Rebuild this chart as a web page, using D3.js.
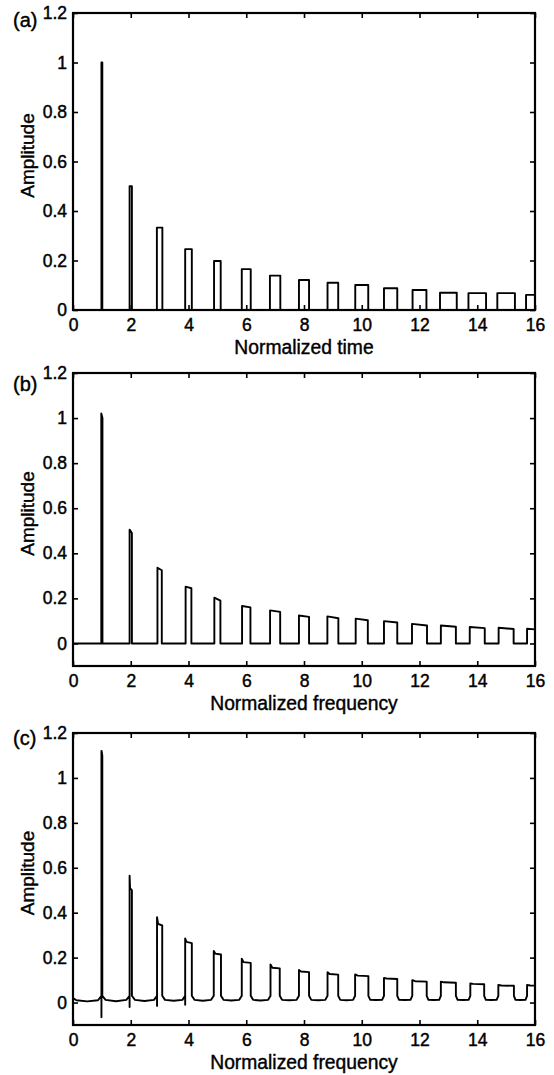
<!DOCTYPE html>
<html>
<head>
<meta charset="utf-8">
<script src="https://cdn.jsdelivr.net/npm/d3@7"></script>
<style>
  body { margin: 0; background: #fff; }
  text { font-family: "Liberation Sans", Arial, Helvetica, sans-serif; fill: #000; }
</style>
</head>
<body>
<div id="canvas"></div>
<script>
"use strict";

/* =========================
   DATA
   ========================= */

let harmonics = [1, 2, 3, 4, 5, 6, 7, 8, 9, 10, 11, 12, 13, 14, 15, 16];
let xTicks = [0, 2, 4, 6, 8, 10, 12, 14, 16];
let yTicks = [0, 0.2, 0.4, 0.6, 0.8, 1, 1.2];

/* (a) normalized time: pulse heights and widths */
let aHeights = [1.0, 0.5, 0.333, 0.246, 0.198, 0.165, 0.139, 0.121, 0.11, 0.101, 0.088, 0.081, 0.07, 0.068, 0.068, 0.061];
let aWidths  = [0.03, 0.08, 0.19, 0.23, 0.23, 0.31, 0.36, 0.35, 0.37, 0.45, 0.46, 0.48, 0.58, 0.61, 0.61, 0.62];

/* (b) normalized frequency: left/right top of each pulse */
let bLeft   = [1.02, 0.505, 0.336, 0.252, 0.203, 0.166, 0.147, 0.124, 0.12, 0.11, 0.099, 0.087, 0.08, 0.073, 0.07, 0.065];
let bRight  = [1.0, 0.49, 0.325, 0.245, 0.19, 0.16, 0.14, 0.118, 0.112, 0.103, 0.093, 0.08, 0.074, 0.068, 0.064, 0.06];
let bWidths = [0.04, 0.08, 0.15, 0.2, 0.21, 0.29, 0.35, 0.35, 0.38, 0.42, 0.46, 0.52, 0.52, 0.52, 0.52, 0.55];

/* (c) normalized frequency: overshoot peak, plateau, undershoot */
let cPeaks  = [1.12, 0.565, 0.38, 0.285, 0.23, 0.195, 0.17, 0.145, 0.135, 0.125, 0.11, 0.1, 0.093, 0.085, 0.078, 0.078];
let cTops   = [1.12, 0.51, 0.35, 0.27, 0.218, 0.18, 0.155, 0.138, 0.127, 0.12, 0.107, 0.095, 0.09, 0.083, 0.076, 0.076];
let cDips   = [-0.065, -0.02, -0.015, -0.01, 0, 0, 0, 0, 0, 0, 0, 0, 0, 0, 0, 0];
let cWidths = [0.03, 0.08, 0.18, 0.23, 0.25, 0.31, 0.32, 0.35, 0.37, 0.46, 0.46, 0.5, 0.52, 0.48, 0.54, 0.55];

/* (c) scalloped baseline in the gap before each pulse */
let cGapStart    = [0.02, 0.03, 0.03, 0.03, 0.03, 0.03, 0.03, 0.03, 0.03, 0.03, 0.03, 0.03, 0.03, 0.03, 0.03, 0.03];
let cGapShoulder = [0.01, 0.012, 0.012, 0.012, 0.012, 0.012, 0.012, 0.012, 0.012, 0.012, 0.012, 0.012, 0.012, 0.012, 0.012, 0.012];
let cGapMid      = [0.005, 0.006, 0.007, 0.008, 0.008, 0.009, 0.009, 0.01, 0.01, 0.01, 0.011, 0.011, 0.011, 0.011, 0.011, 0.011];
let cGapEnd      = [0.03, 0.03, 0.03, 0.03, 0.03, 0.03, 0.03, 0.03, 0.03, 0.03, 0.03, 0.03, 0.03, 0.03, 0.03, 0.03];

/* =========================
   CONFIGURATION
   ========================= */

let svgWidth = 554;
let svgHeight = 1075;
let plotLeft = 73;
let plotRight = 535;

let panels = [
    {id: "a", top: 13,  bottom: 310,  yMin: 0,    label: "(a)", labelY: 20,  xTitle: "Normalized time"},
    {id: "b", top: 373, bottom: 666,  yMin: -0.1, label: "(b)", labelY: 384, xTitle: "Normalized frequency"},
    {id: "c", top: 733, bottom: 1025, yMin: -0.1, label: "(c)", labelY: 738, xTitle: "Normalized frequency"}
];

let svg = d3.select("#canvas")
    .append("svg")
    .attr("width", svgWidth)
    .attr("height", svgHeight);

let xScale = d3.scaleLinear()
    .domain([0, 16])
    .range([plotLeft, plotRight]);

/* =========================
   PULSE PATH BUILDERS
   ========================= */

function pathA() {
    let segs = [];
    harmonics.forEach(function(n, i) {
        let l = n - aWidths[i] / 2, r = n + aWidths[i] / 2;
        segs.push([[l, 0], [l, aHeights[i]], [r, aHeights[i]], [r, 0]]);
    });
    return segs;
}

function pathB() {
    let pts = [[0, 0]];
    harmonics.forEach(function(n, i) {
        let l = n - bWidths[i] / 2, r = n + bWidths[i] / 2;
        pts.push([l, 0], [l, bLeft[i]], [r, bRight[i]], [r, 0]);
    });
    pts.push([16.5, 0]);
    return [pts];
}

function pathC() {
    let pts = [];
    let prevEnd = 0;
    harmonics.forEach(function(n, i) {
        let l = n - cWidths[i] / 2, r = n + cWidths[i] / 2;
        let gap = l - prevEnd;
        /* scalloped baseline */
        pts.push([prevEnd, cGapStart[i]]);
        pts.push([prevEnd + gap * 0.12, cGapShoulder[i]]);
        pts.push([prevEnd + gap * 0.5, cGapMid[i]]);
        pts.push([l - gap * 0.12, cGapShoulder[i]]);
        pts.push([l, cGapEnd[i]]);
        /* pulse with undershoot and overshoot */
        if (cDips[i] < 0) { pts.push([l, cDips[i]]); }
        pts.push([l, cPeaks[i]]);
        pts.push([l + cWidths[i] * 0.2, cTops[i]]);
        pts.push([r, cTops[i] * 0.98]);
        pts.push([r, cGapStart[Math.min(i + 1, 15)]]);
        prevEnd = r;
    });
    return [pts];
}

let builders = {a: pathA, b: pathB, c: pathC};

/* =========================
   DRAW PANELS
   ========================= */

panels.forEach(function(p) {

    let yScale = d3.scaleLinear()
        .domain([p.yMin, 1.2])
        .range([p.bottom, p.top]);

    let g = svg.append("g");

    /* clip for signal */
    svg.append("clipPath")
        .attr("id", "clip-" + p.id)
        .append("rect")
        .attr("x", plotLeft)
        .attr("y", p.top)
        .attr("width", plotRight - plotLeft)
        .attr("height", p.bottom - p.top);

    /* signal */
    let line = d3.line()
        .x(d => xScale(d[0]))
        .y(d => yScale(d[1]));

    g.append("g")
        .attr("clip-path", "url(#clip-" + p.id + ")")
        .selectAll("path")
        .data(builders[p.id]())
        .join("path")
        .attr("d", line)
        .attr("fill", "none")
        .attr("stroke", "#000")
        .attr("stroke-width", 1.9)
        .attr("stroke-linejoin", "round");

    /* bottom axis with labels */
    let bottomAxis = g.append("g")
        .attr("transform", "translate(0," + p.bottom + ")")
        .call(d3.axisBottom(xScale).tickValues(xTicks).tickSizeInner(-5).tickSizeOuter(0).tickPadding(9));

    /* top axis, ticks only */
    let topAxis = g.append("g")
        .attr("transform", "translate(0," + p.top + ")")
        .call(d3.axisTop(xScale).tickValues(xTicks).tickSizeInner(-5).tickSizeOuter(0).tickFormat(""));

    /* left axis with labels */
    let leftAxis = g.append("g")
        .attr("transform", "translate(" + plotLeft + ",0)")
        .call(d3.axisLeft(yScale).tickValues(yTicks).tickSizeInner(-5).tickSizeOuter(0).tickPadding(6)
            .tickFormat(d3.format("")));

    /* right axis, ticks only */
    let rightAxis = g.append("g")
        .attr("transform", "translate(" + plotRight + ",0)")
        .call(d3.axisRight(yScale).tickValues(yTicks).tickSizeInner(-5).tickSizeOuter(0).tickFormat(""));

    [bottomAxis, topAxis, leftAxis, rightAxis].forEach(function(ax) {
        ax.select(".domain").remove();
        ax.selectAll(".tick line").attr("stroke", "#000").attr("stroke-width", 1.6);
        ax.selectAll("text")
            .attr("font-size", 17.5)
            .attr("fill", "#000")
            .attr("stroke", "#000")
            .attr("stroke-width", 0.45)
            .style("font-family", "'Liberation Sans', Arial, sans-serif");
    });

    /* box */
    g.append("rect")
        .attr("x", plotLeft)
        .attr("y", p.top)
        .attr("width", plotRight - plotLeft)
        .attr("height", p.bottom - p.top)
        .attr("fill", "none")
        .attr("stroke", "#000")
        .attr("stroke-width", 2.2);

    /* axis titles */
    g.append("text")
        .attr("x", (plotLeft + plotRight) / 2)
        .attr("y", p.bottom + 44)
        .attr("text-anchor", "middle")
        .attr("font-size", 19.3)
        .attr("stroke", "#000")
        .attr("stroke-width", 0.4)
        .text(p.xTitle);

    g.append("text")
        .attr("transform", "translate(34," + ((p.top + p.bottom) / 2 - 6) + ") rotate(-90)")
        .attr("text-anchor", "middle")
        .attr("font-size", 19)
        .attr("stroke", "#000")
        .attr("stroke-width", 0.4)
        .text("Amplitude");

    /* panel letter */
    g.append("text")
        .attr("x", 13)
        .attr("y", p.labelY + 7)
        .attr("font-size", 20)
        .attr("stroke", "#000")
        .attr("stroke-width", 0.4)
        .text(p.label);
});
</script>
</body>
</html>
